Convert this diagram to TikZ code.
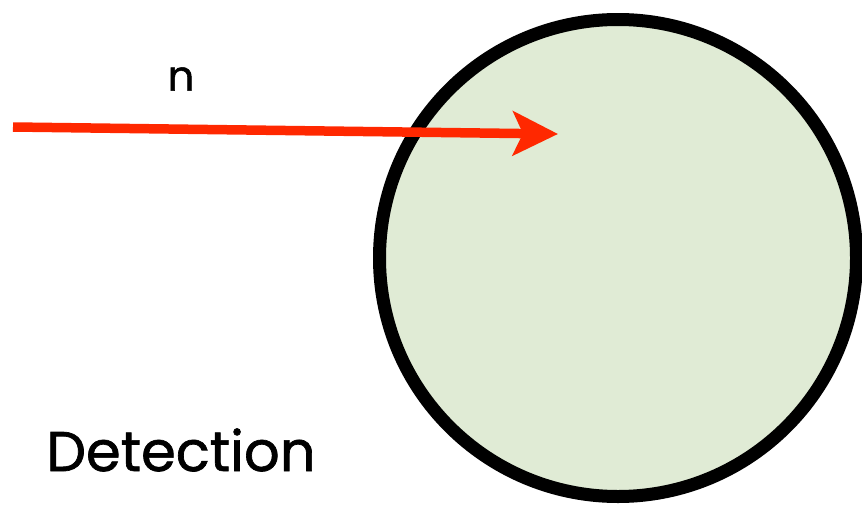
\documentclass[tikz,border=0pt]{standalone}
\usepackage{fontspec}
\setmainfont{Poppins}
\newfontfamily\labelfont{Poppins}[FakeBold=1.2]
\usetikzlibrary{arrows.meta,positioning}
\definecolor{detgreen}{RGB}{224,235,213}
\definecolor{beamred}{RGB}{255,40,0}

\begin{document}
\begin{tikzpicture}[x=1pt,y=-1pt,>=Stealth]
  \useasboundingbox (0,0) rectangle (862,506);
  \node[circle,draw,line width=13pt,fill=detgreen,minimum size=477pt,inner sep=0pt] (det) at (618,258) {};
  \coordinate (src) at (13,127);
  \coordinate (hit) at (558,134);
  \draw[->,line width=9.5pt,color=beamred,>={Stealth[length=45pt,width=44pt,inset=10pt]}] (src)--(hit);
  \node[font=\labelfont\fontsize{42}{48}\selectfont] (nlab) at (181,79) {n};
  \node[font=\labelfont\fontsize{56}{64}\selectfont] (dlab) at (181,450) {Detection};
\end{tikzpicture}
\end{document}
